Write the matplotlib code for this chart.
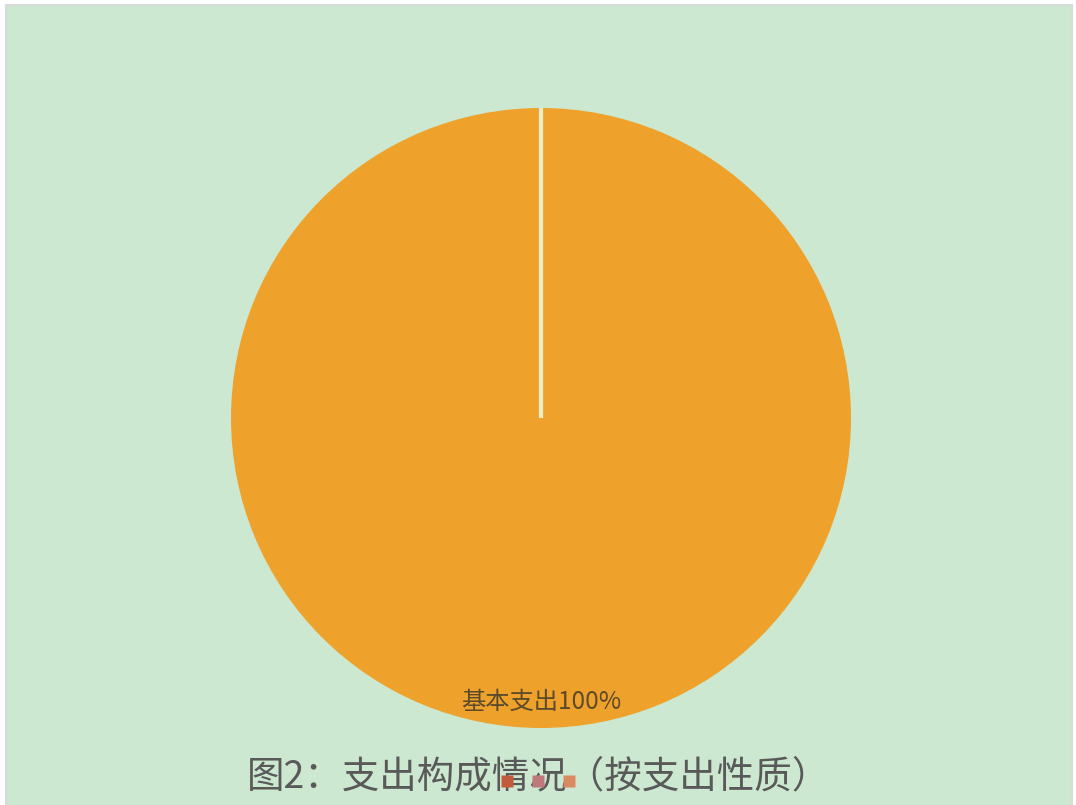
import matplotlib
matplotlib.use('Agg')
import matplotlib.pyplot as plt
from matplotlib.lines import Line2D

plt.rcParams['font.family'] = ['Noto Sans CJK SC', 'DejaVu Sans']

# ── 数据 ──────────────────────────────────────────────
categories = ["基本支出", "项目支出"]
values = [100, 0]
slice_colors = ["#eea22b", "#eea22b"]
legend_colors = ["#c45a3c", "#c0797a", "#d98a60"]
title = "图2：支出构成情况（按支出性质）"

W, H = 1076, 805
fig = plt.figure(figsize=(W / 100, H / 100), dpi=100, facecolor="white")

# 绿色背景
bg = fig.add_axes([6 / W, 0, (1072 - 6) / W, (805 - 5) / H])
bg.set_facecolor("#cce8d0")
bg.set_xticks([])
bg.set_yticks([])
for s in bg.spines.values():
    s.set_color("#d8dcd8")
    s.set_linewidth(1.5)
bg.spines["bottom"].set_visible(False)

# 饼图
cx, cy, r = 541, 418, 310
ax = fig.add_axes([(cx - r) / W, 1 - (cy + r) / H, 2 * r / W, 2 * r / H])
ax.set_facecolor("none")
ax.axis('off')

total = sum(values)
labels = [f"{c}{v * 100 // total}%" if v > 0 else "" for c, v in zip(categories, values)]
wedges, texts = ax.pie(values, colors=slice_colors, startangle=90, counterclock=False,
                       labels=labels, labeldistance=0.915,
                       textprops=dict(fontsize=17.5, color="#5c4a2a"))
wedges[0].set_edgecolor("none")
wedges[1].set_edgecolor("#e8eecb")
wedges[1].set_linewidth(3)
for t in texts:
    t.set_ha("center")
    t.set_va("center")
ax.set_xlim(-1, 1)
ax.set_ylim(-1, 1)

# 标题
fig.text(538 / W, 1 - 777 / H, title, ha="center", va="center",
         fontsize=27, color="#595959")

# 残留的图例方块
handles = [Line2D([], [], marker='s', linestyle='none', markersize=8.5,
                  markerfacecolor=c, markeredgecolor='none') for c in legend_colors]
fig.legend(handles, ["", "", ""], ncol=3, loc="center",
           bbox_to_anchor=(538 / W, 1 - 782 / H), frameon=False,
           handlelength=1, handletextpad=0, columnspacing=1.23, fontsize=10,
           borderpad=0, borderaxespad=0)

plt.savefig("out.png", dpi=100)
